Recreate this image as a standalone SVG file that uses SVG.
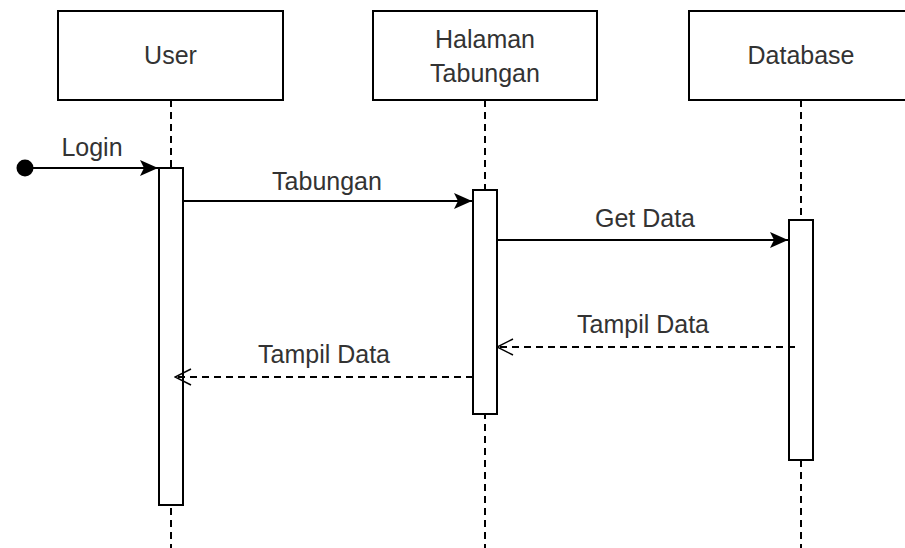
<svg xmlns="http://www.w3.org/2000/svg" width="905" height="548" viewBox="0 0 905 548">
<defs>
<marker id="filled" viewBox="0 0 18 16" refX="18" refY="8" markerWidth="18" markerHeight="16" markerUnits="userSpaceOnUse" orient="auto">
<path d="M0,0 L18,8 L0,16 L4,8 Z" fill="#000"/>
</marker>
<marker id="open" viewBox="0 0 20 20" refX="19" refY="10" markerWidth="20" markerHeight="20" markerUnits="userSpaceOnUse" orient="auto">
<path d="M3,2 L19,10 L3,18" fill="none" stroke="#000" stroke-width="1.5"/>
</marker>
</defs>
<style>
.box{fill:#fff;stroke:#000;stroke-width:2}
.life{stroke:#000;stroke-width:2;stroke-dasharray:7 5;fill:none}
.t{font-family:"Liberation Sans",Arial,sans-serif;font-size:25px;fill:#333;text-anchor:middle}
.msg{stroke:#000;stroke-width:2;fill:none}
.ret{stroke:#000;stroke-width:2;fill:none;stroke-dasharray:7 5}
</style>
<rect width="905" height="548" fill="#fff"/>
<g id="lifelines">
<line class="life" x1="171" y1="100" x2="171" y2="548"/>
<line class="life" x1="485" y1="100" x2="485" y2="548"/>
<line class="life" x1="801" y1="100" x2="801" y2="548"/>
</g>
<g id="user">
<rect class="box" x="58" y="11" width="225" height="89"/>
<text class="t" x="170.5" y="64">User</text>
</g>
<g id="halaman">
<rect class="box" x="373" y="11" width="224" height="89"/>
<text class="t" x="485" y="48">Halaman</text>
<text class="t" x="485" y="82">Tabungan</text>
</g>
<g id="database">
<rect class="box" x="689" y="11" width="225" height="89"/>
<text class="t" x="801" y="64">Database</text>
</g>
<g id="user-activation">
<rect class="box" x="159" y="168" width="24" height="337"/>
</g>
<g id="halaman-activation">
<rect class="box" x="473" y="190" width="24" height="224"/>
</g>
<g id="database-activation">
<rect class="box" x="789" y="220" width="24" height="240"/>
</g>
<g id="connectors">
<circle cx="25" cy="168" r="8.5" fill="#000"/>
<line class="msg" x1="25" y1="168" x2="158" y2="168" marker-end="url(#filled)"/>
<text class="t" x="92" y="156">Login</text>
<line class="msg" x1="183" y1="201" x2="472" y2="201" marker-end="url(#filled)"/>
<text class="t" x="327" y="190">Tabungan</text>
<line class="msg" x1="497" y1="240" x2="788" y2="240" marker-end="url(#filled)"/>
<text class="t" x="645" y="227">Get Data</text>
<line class="ret" x1="795" y1="347" x2="497" y2="347" marker-end="url(#open)"/>
<text class="t" x="643" y="333">Tampil Data</text>
<line class="ret" x1="473" y1="377" x2="175" y2="377" marker-end="url(#open)"/>
<text class="t" x="324" y="363">Tampil Data</text>
</g>
</svg>
